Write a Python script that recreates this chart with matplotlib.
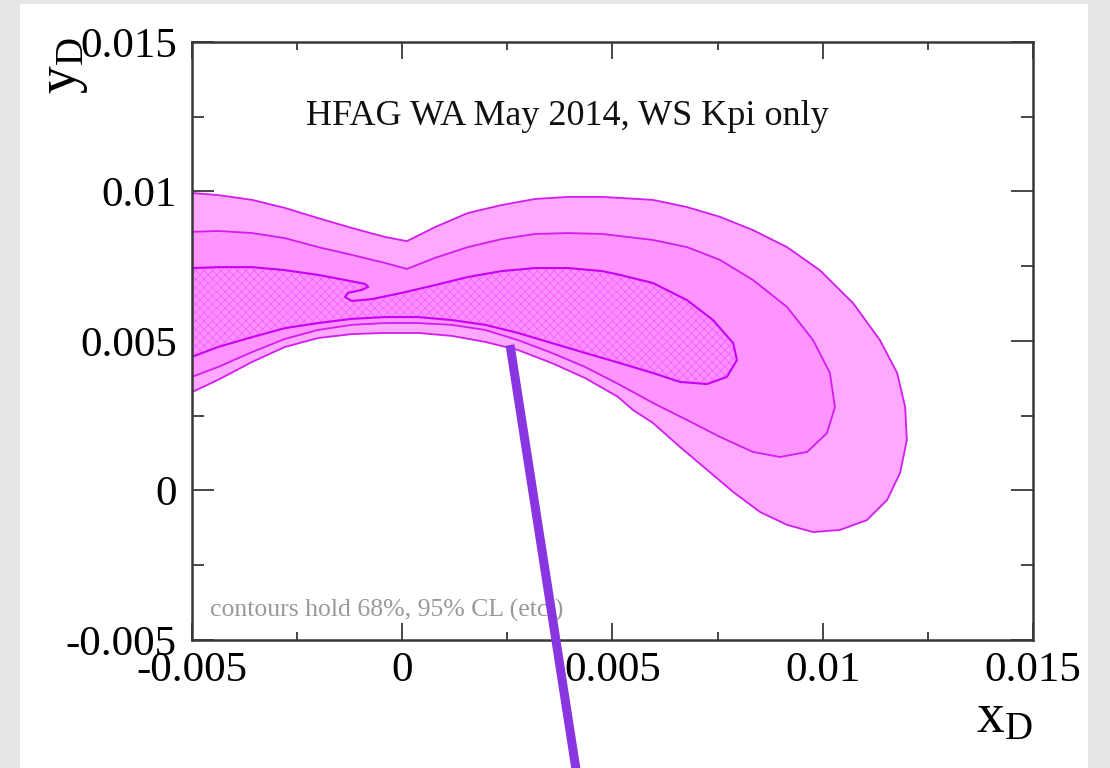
import matplotlib.pyplot as plt
from matplotlib.lines import Line2D
from matplotlib.patches import Polygon, Rectangle
from matplotlib.ticker import MultipleLocator
import numpy as np

plt.rcParams['font.family'] = ['Liberation Serif', 'DejaVu Serif']
plt.rcParams['mathtext.fontset'] = 'custom'
plt.rcParams['mathtext.rm'] = 'Liberation Serif'
plt.rcParams['mathtext.it'] = 'Liberation Serif'
plt.rcParams['hatch.linewidth'] = 0.6

# contour boundaries (x_D, y_D), each traced round and closed on the left edge
outer_x = [-0.00500, -0.00438, -0.00357, -0.00279, -0.00200, -0.00120, -0.00041, 0.00011,
           0.00078, 0.00156, 0.00237, 0.00316, 0.00394, 0.00475, 0.00596, 0.00677,
           0.00756, 0.00834, 0.00915, 0.00993, 0.01072, 0.01136, 0.01177, 0.01196,
           0.01200, 0.01184, 0.01153, 0.01105, 0.01041, 0.00977, 0.00915, 0.00851,
           0.00787, 0.00725, 0.00661, 0.00596, 0.00549, 0.00513, 0.00435, 0.00356,
           0.00275, 0.00197, 0.00118, 0.00037, -0.00041, -0.00120, -0.00200, -0.00279,
           -0.00357, -0.00438, -0.00500]
outer_y = [0.00995, 0.00988, 0.00972, 0.00945, 0.00911, 0.00878, 0.00848, 0.00834,
           0.00881, 0.00928, 0.00955, 0.00975, 0.00982, 0.00982, 0.00972, 0.00948,
           0.00915, 0.00871, 0.00814, 0.00737, 0.00627, 0.00503, 0.00393, 0.00279,
           0.00169, 0.00059, -0.00032, -0.00099, -0.00132, -0.00139, -0.00115, -0.00072,
           -0.00005, 0.00069, 0.00145, 0.00226, 0.00269, 0.00313, 0.00376, 0.00426,
           0.00470, 0.00497, 0.00517, 0.00527, 0.00527, 0.00523, 0.00510, 0.00480,
           0.00430, 0.00370, 0.00329]

middle_x = [-0.00500, -0.00438, -0.00357, -0.00279, -0.00200, -0.00120, -0.00041, 0.00011,
            0.00078, 0.00156, 0.00237, 0.00316, 0.00394, 0.00475, 0.00596, 0.00677,
            0.00756, 0.00834, 0.00915, 0.00977, 0.01017, 0.01029, 0.01010, 0.00963,
            0.00898, 0.00834, 0.00756, 0.00677, 0.00596, 0.00518, 0.00435, 0.00356,
            0.00275, 0.00197, 0.00118, 0.00037, -0.00041, -0.00120, -0.00200, -0.00279,
            -0.00357, -0.00438, -0.00500]
middle_y = [0.00865, 0.00868, 0.00861, 0.00844, 0.00814, 0.00788, 0.00761, 0.00741,
            0.00778, 0.00814, 0.00841, 0.00858, 0.00861, 0.00858, 0.00838, 0.00814,
            0.00771, 0.00704, 0.00614, 0.00503, 0.00393, 0.00279, 0.00192, 0.00129,
            0.00112, 0.00129, 0.00179, 0.00236, 0.00293, 0.00353, 0.00413, 0.00460,
            0.00503, 0.00537, 0.00554, 0.00560, 0.00560, 0.00554, 0.00537, 0.00507,
            0.00463, 0.00413, 0.00380]

inner_x = [-0.00500, -0.00438, -0.00357, -0.00279, -0.00200, -0.00136, -0.00089, -0.00081,
           -0.00096, -0.00129, -0.00136, -0.00120, -0.00072, -0.00001, 0.00078, 0.00156,
           0.00237, 0.00316, 0.00394, 0.00475, 0.00518, 0.00596, 0.00677, 0.00739,
           0.00787, 0.00796, 0.00772, 0.00725, 0.00661, 0.00596, 0.00518, 0.00435,
           0.00356, 0.00275, 0.00197, 0.00118, 0.00037, -0.00041, -0.00120, -0.00200,
           -0.00279, -0.00357, -0.00438, -0.00500]
inner_y = [0.00744, 0.00747, 0.00747, 0.00737, 0.00721, 0.00704, 0.00691, 0.00681,
           0.00671, 0.00661, 0.00647, 0.00634, 0.00640, 0.00661, 0.00687, 0.00714,
           0.00734, 0.00744, 0.00744, 0.00734, 0.00721, 0.00694, 0.00637, 0.00570,
           0.00493, 0.00436, 0.00380, 0.00356, 0.00363, 0.00393, 0.00426, 0.00460,
           0.00493, 0.00527, 0.00554, 0.00570, 0.00580, 0.00580, 0.00574, 0.00560,
           0.00543, 0.00513, 0.00480, 0.00447]

xlim = (-0.005, 0.015)
ylim = (-0.005, 0.015)
ticks = [-0.005, 0, 0.005, 0.01, 0.015]
tick_labels = ['-0.005', '0', '0.005', '0.01', '0.015']

fig = plt.figure(figsize=(11.1, 7.68), dpi=100, facecolor='#e5e5e5')
fig.add_artist(Rectangle((0.018, 0), 0.9622, 0.9948, transform=fig.transFigure,
                         facecolor='white', edgecolor='none', zorder=0))

ax = fig.add_axes([0.17297, 0.16667, 0.75766, 0.77865])
ax.patch.set_alpha(0)

line_col = '#d21cf0'
outer = np.column_stack([outer_x, outer_y])
middle = np.column_stack([middle_x, middle_y])
inner = np.column_stack([inner_x, inner_y])

ax.add_patch(Polygon(outer, closed=True, facecolor='#ffa8ff', edgecolor=line_col,
                     linewidth=1.3, joinstyle='round', zorder=1))
ax.add_patch(Polygon(middle, closed=True, facecolor='#ff94ff', edgecolor=line_col,
                     linewidth=1.3, joinstyle='round', zorder=2))
ax.add_patch(Polygon(inner, closed=True, facecolor='#ff90ff', edgecolor='none', zorder=3))
ax.add_patch(Polygon(inner, closed=True, facecolor='none', edgecolor='#f066ff',
                     hatch='xxxx', linewidth=0, zorder=4))
ax.add_patch(Polygon(inner, closed=True, facecolor='none', edgecolor='#c800f8',
                     linewidth=1.5, joinstyle='round', zorder=5))

ax.set_xlim(*xlim)
ax.set_ylim(*ylim)
ax.set_xticks(ticks)
ax.set_xticklabels(tick_labels)
ax.set_yticks(ticks)
ax.set_yticklabels(tick_labels)
ax.xaxis.set_minor_locator(MultipleLocator(0.0025))
ax.yaxis.set_minor_locator(MultipleLocator(0.0025))

for s in ax.spines.values():
    s.set_color('#383838')
    s.set_linewidth(1.8)
    s.set_zorder(10)

ax.tick_params(axis='both', which='both', direction='in', top=True, right=True,
               colors='#383838', labelcolor='black', labelsize=31)
ax.tick_params(axis='x', which='major', length=12, width=1.3, pad=8)
ax.tick_params(axis='x', which='minor', length=6, width=1.3)
ax.tick_params(axis='y', which='major', length=16, width=1.3, pad=11)
ax.tick_params(axis='y', which='minor', length=8.5, width=1.3)

ax.set_xlabel(r'$\mathregular{x_D}$', fontsize=40, loc='right', labelpad=2)
ax.set_ylabel(r'$\mathregular{y_D}$', fontsize=40, loc='top')
ax.yaxis.set_label_coords(-0.1213, 1.0084)

ax.text(0.446, 0.876, 'HFAG WA May 2014, WS Kpi only', transform=ax.transAxes,
        ha='center', va='center', fontsize=26, color='#111111')
ax.text(0.0214, 0.050, 'contours hold 68%, 95% CL (etc.)', transform=ax.transAxes,
        ha='left', va='center', fontsize=18.5, color='#999999')

# pointer line laid over the figure
fig.add_artist(Line2D([0.4595, 0.5198], [0.5508, -0.01], transform=fig.transFigure,
                      color='#8a35e2', linewidth=6.5, solid_capstyle='butt', zorder=20))

fig.savefig('out.png', dpi=100, facecolor=fig.get_facecolor())
